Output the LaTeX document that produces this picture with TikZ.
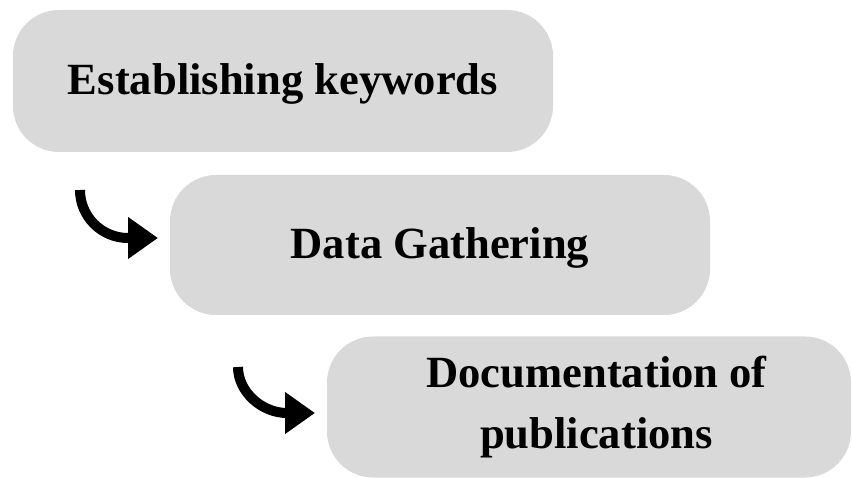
\documentclass[tikz,border=0pt]{standalone}
\usepackage{fontspec}
\setmainfont{Liberation Serif}
\usetikzlibrary{arrows.meta}
\definecolor{boxgray}{HTML}{D9D9D9}
\begin{document}
\begin{tikzpicture}[x=1pt,y=-1pt,
  stepbox/.style={fill=boxgray, draw=none, rounded corners=46pt, inner sep=0pt},
  steplabel/.style={font=\fontsize{44.6}{61}\selectfont\bfseries, anchor=base, inner sep=0pt, align=center},
  curvearrow/.style={line width=10pt, black, -{Triangle[length=30pt,width=40pt]}}]
\path[use as bounding box] (0,0) rectangle (852,478);
% boxes
\node[stepbox, minimum width=540pt, minimum height=142pt] (b1) at (283,81) {};
\node[stepbox, minimum width=540pt, minimum height=140pt] (b2) at (440,245) {};
\node[stepbox, minimum width=524pt, minimum height=141pt] (b3) at (589,407) {};
% labels
\node[steplabel] (t1) at (283,95) {Establishing keywords};
\node[steplabel] (t2) at (440,259) {Data Gathering};
\node[steplabel] (t3) at (596.5,448) {Documentation of\\publications};
% arrows
\coordinate (a1s) at (80,190);
\coordinate (a1m) at (128,238);
\coordinate (a1e) at (158,238);
\draw[curvearrow] (a1s) .. controls (80,216.5) and (101.5,238) .. (a1m) -- (a1e);
\coordinate (a2s) at (238,367);
\coordinate (a2m) at (287,413);
\coordinate (a2e) at (315,413);
\draw[curvearrow] (a2s) .. controls (238,392) and (262,413) .. (a2m) -- (a2e);
\end{tikzpicture}
\end{document}
